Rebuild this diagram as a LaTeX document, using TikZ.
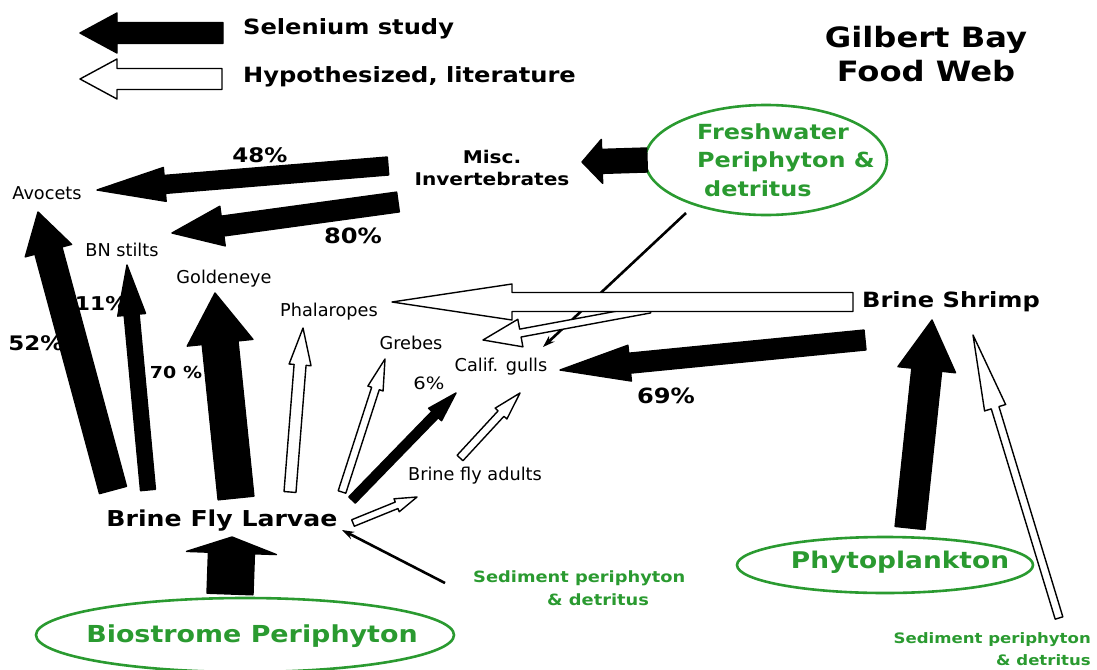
\documentclass[tikz,border=0pt]{standalone}
\usepackage{fontspec}
\setmainfont{DejaVu Sans}
\newfontfamily\verdana[FakeStretch=1.15]{DejaVu Sans}
\usepackage{tikz}
\usetikzlibrary{arrows.meta, calc, shapes.geometric}
\definecolor{web_green}{HTML}{2A9A30}

\newcommand{\foodarrow}[6][]{%
  \coordinate (fa-base) at ($(#3)!#6pt!(#2)$);
  \filldraw[line width=1.4pt, line join=round, #1]
    ($(#2)!#4pt!90:(#3)$) -- ($(fa-base)!#4pt!90:(#3)$) -- ($(fa-base)!#5pt!90:(#3)$)
    -- (#3) -- ($(fa-base)!#5pt!-90:(#3)$) -- ($(fa-base)!#4pt!-90:(#3)$)
    -- ($(#2)!#4pt!-90:(#3)$) -- cycle;
}

\begin{document}
\begin{tikzpicture}[
    x=1pt, y=-1pt,
    source/.style={ellipse, draw=web_green, line width=2.6pt, inner sep=0},
    srctext/.style={text=web_green, inner sep=0},
    taxon/.style={font=\fontsize{17.7}{20}\selectfont, inner sep=0},
    heading/.style={font=\verdana\bfseries\fontsize{21}{25}\selectfont, inner sep=0},
    pct/.style={font=\verdana\bfseries\fontsize{20}{22}\selectfont, inner sep=0},
    selenium/.style={fill=black, draw=black},
    literature/.style={fill=white, draw=black},
    feed/.style={line width=2.6pt, -{Stealth[length=12pt, width=8pt]}}
]
\useasboundingbox (0,0) rectangle (1097,669);

	\node[heading, anchor=west] (keysel) at (243,29) {Selenium study};
	\node[heading, anchor=west] (keylit) at (243,77) {Hypothesized, literature};
	\node[heading, font=\verdana\bfseries\fontsize{28}{34}\selectfont, align=center] (title) at (926,54) {Gilbert Bay\\Food Web};

	\node[source, minimum width=242pt, minimum height=110pt] (fresh) at (766,160) {};
	\node[srctext, font=\verdana\bfseries\fontsize{20.8}{28.5}\selectfont, anchor=west, align=left] (freshtxt) at (697,160) {Freshwater\\Periphyton \&\\\hspace*{7pt}detritus};
	\node[source, minimum width=296pt, minimum height=56pt] (phyto) at (885,565) {};
	\node[srctext, font=\verdana\bfseries\fontsize{23}{26}\selectfont] (phytotxt) at (900,562) {Phytoplankton};
	\node[source, minimum width=418pt, minimum height=74pt] (bio) at (245,635) {};
	\node[srctext, font=\verdana\bfseries\fontsize{23.4}{26}\selectfont] (biotxt) at (252,636) {Biostrome Periphyton};
	\node[srctext, font=\verdana\bfseries\fontsize{15.5}{23}\selectfont, anchor=west, align=left] (sedleft) at (473,588) {Sediment periphyton\\\hspace*{74pt}\& detritus};
	\node[srctext, font=\verdana\bfseries\fontsize{14.4}{22}\selectfont, anchor=east, align=right] (sedright) at (1091,649) {Sediment periphyton\\\& detritus};
	\node[pct, font=\verdana\bfseries\fontsize{19}{22}\selectfont] (p11) at (101,304) {11\%};

	\coordinate (keysel-s) at (223,33);   \coordinate (keysel-e) at (80,33);
	\coordinate (keylit-s) at (222,79);   \coordinate (keylit-e) at (80,79);
	\foodarrow[selenium]{keysel-s}{keysel-e}{10.5}{20}{37}
	\foodarrow[literature]{keylit-s}{keylit-e}{10.5}{20}{37}

	\coordinate (fresh-misc) at (647,160);  \coordinate (misc-in) at (582,162);
	\coordinate (fresh-gulls) at (686,213); \coordinate (gulls-top) at (543,347);
	\coordinate (misc-avo) at (388,166);    \coordinate (avo-in) at (97,190);
	\coordinate (misc-stilts) at (398,202); \coordinate (stilts-in) at (172,233);
	\coordinate (shrimp-phal) at (853,302); \coordinate (phal-in) at (392,302);
	\coordinate (shrimp-gulls) at (650,309);\coordinate (gulls-in) at (483,340);
	\coordinate (shrimp-gulls2) at (865,340);\coordinate (gulls-east) at (560,370);
	\draw[feed] (fresh-gulls) -- (gulls-top);
	\foodarrow[selenium]{fresh-misc}{misc-in}{12}{22}{20}
	\foodarrow[selenium]{misc-avo}{avo-in}{9}{17}{68}
	\foodarrow[selenium]{misc-stilts}{stilts-in}{10}{20}{51}
	\foodarrow[literature]{shrimp-gulls}{gulls-in}{4}{14}{38}
	\foodarrow[literature]{shrimp-phal}{phal-in}{9.5}{18}{120}
	\foodarrow[selenium]{shrimp-gulls2}{gulls-east}{10}{18}{70}

	\coordinate (larv-avo) at (113,490);    \coordinate (avo-up) at (38,212);
	\coordinate (larv-stilts) at (148,490); \coordinate (stilts-up) at (127,265);
	\coordinate (larv-gold) at (236,498);   \coordinate (gold-up) at (215,293);
	\coordinate (larv-phal) at (290,492);   \coordinate (phal-up) at (303,328);
	\coordinate (larv-grebes) at (342,492); \coordinate (grebes-up) at (385,359);
	\coordinate (larv-gulls) at (352,500);  \coordinate (gulls-sw) at (456,393);
	\coordinate (larv-adults) at (353,523); \coordinate (adults-in) at (417,497);
	\coordinate (adults-gulls) at (460,458);\coordinate (gulls-s) at (520,393);
	\foodarrow[selenium]{larv-avo}{avo-up}{14}{24}{40}
	\foodarrow[selenium]{larv-stilts}{stilts-up}{7.5}{14}{50}
	\foodarrow[selenium]{larv-gold}{gold-up}{18}{33}{50}
	\foodarrow[literature]{larv-phal}{phal-up}{6}{11}{37}
	\foodarrow[literature]{larv-grebes}{grebes-up}{4}{8}{31}
	\foodarrow[selenium]{larv-gulls}{gulls-sw}{4.5}{9}{30}
	\foodarrow[literature]{larv-adults}{adults-in}{3.5}{7}{22}
	\foodarrow[literature]{adults-gulls}{gulls-s}{4}{8}{28}

	\coordinate (bio-larv) at (230,594);    \coordinate (larv-in) at (232,537);
	\coordinate (sed-larv) at (445,583);    \coordinate (larv-se) at (342,530);
	\coordinate (phyto-shrimp) at (910,528);\coordinate (shrimp-in) at (932,320);
	\coordinate (sed-shrimp) at (1059,618); \coordinate (shrimp-se) at (973,335);
	\foodarrow[selenium]{bio-larv}{larv-in}{23}{45}{16}
	\draw[feed] (sed-larv) -- (larv-se);
	\foodarrow[selenium]{phyto-shrimp}{shrimp-in}{15}{29}{50}
	\foodarrow[literature]{sed-shrimp}{shrimp-se}{4}{11}{76}

	\node[font=\verdana\bfseries\fontsize{17.5}{22}\selectfont, align=center, inner sep=0] (misc) at (492,168) {Misc.\\Invertebrates};
	\node[font=\verdana\bfseries\fontsize{21}{24}\selectfont, inner sep=0] (shrimp) at (951,302) {Brine Shrimp};
	\node[font=\verdana\bfseries\fontsize{21.9}{24}\selectfont, inner sep=0] (larvae) at (222,521) {Brine Fly Larvae};
	\node[taxon] (avocets) at (47,193) {Avocets};
	\node[taxon] (stilts) at (122,250) {BN stilts};
	\node[taxon] (golden) at (224,279) {Goldeneye};
	\node[taxon] (phal) at (329,312) {Phalaropes};
	\node[taxon] (grebes) at (411,343) {Grebes};
	\node[taxon] (gulls) at (501,367) {Calif. gulls};
	\node[taxon] (adults) at (475,476) {Brine fly adults};

	\node[pct] (p48) at (260,155) {48\%};
	\node[pct, font=\verdana\bfseries\fontsize{21}{22}\selectfont] (p80) at (353,236) {80\%};
	\node[pct] (p52) at (36,343) {52\%};
	\node[pct, font=\verdana\bfseries\fontsize{16.5}{22}\selectfont] (p70) at (176,372) {70 \%};
	\node[pct, font=\verdana\bfseries\fontsize{21}{22}\selectfont] (p69) at (666,396) {69\%};
	\node[pct, font=\verdana\fontsize{17}{22}\selectfont] (p6) at (429,383) {6\%};
\end{tikzpicture}
\end{document}
